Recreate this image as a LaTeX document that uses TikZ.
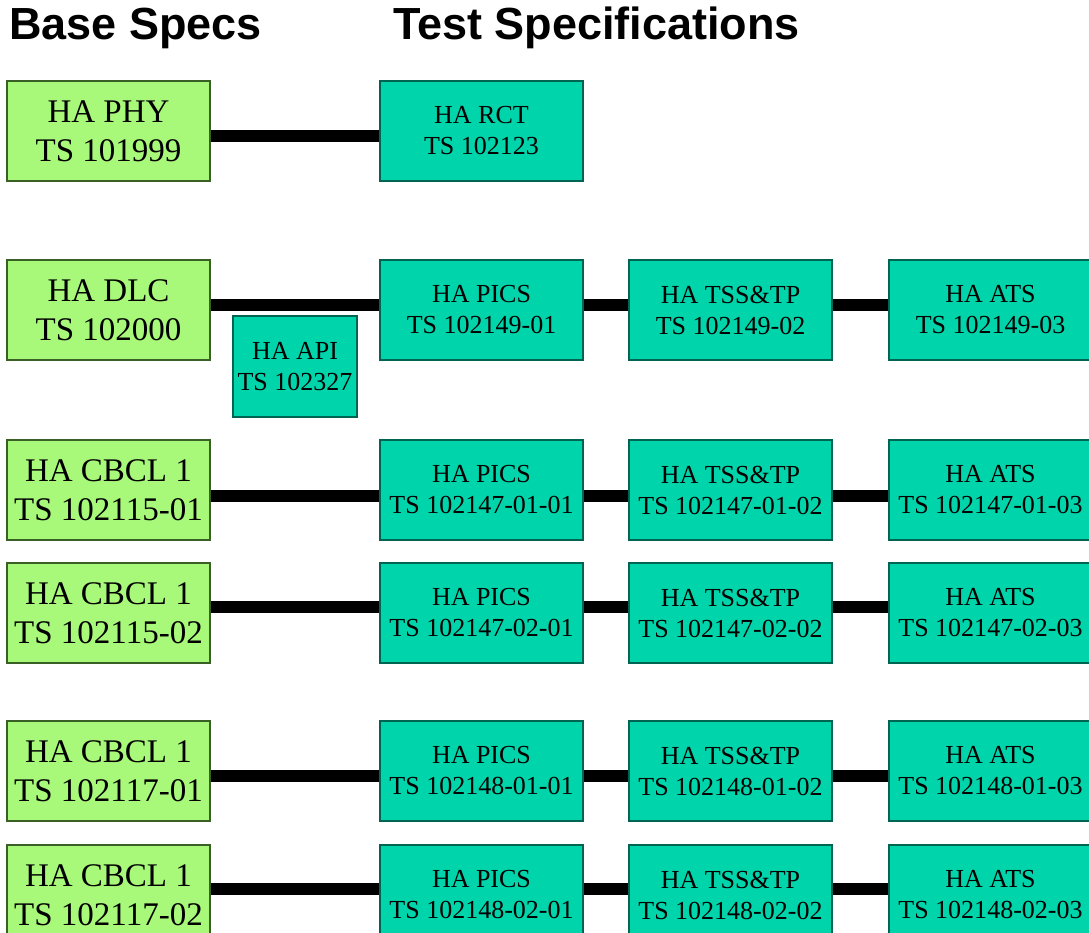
\documentclass[tikz,border=0pt]{standalone}
\usepackage{fontspec}
\setmainfont{Liberation Serif}
\newfontfamily\headfont{Liberation Sans}
\usepackage{tikz}
\usetikzlibrary{arrows,positioning}
\definecolor{basegreen}{RGB}{168,248,122}
\definecolor{baseedge}{RGB}{58,96,40}
\definecolor{testteal}{RGB}{0,212,170}
\definecolor{testedge}{RGB}{0,100,82}

\begin{document}
\begin{tikzpicture}[x=1pt,y=-1pt,
  basebox/.style={rectangle,draw=baseedge,fill=basegreen,line width=1.2pt,
    minimum width=203pt,minimum height=100pt,inner sep=0pt,align=center,
    font=\fontsize{33}{39}\selectfont},
  testbox/.style={rectangle,draw=testedge,fill=testteal,line width=1.2pt,
    minimum width=203pt,minimum height=100pt,inner sep=0pt,align=center,
    font=\fontsize{26}{31}\selectfont},
  link/.style={line width=11.5pt,black},
  head/.style={anchor=base west,inner sep=0pt,font=\headfont\bfseries\fontsize{45}{50}\selectfont}]
\useasboundingbox (0,0) rectangle (1089,932);
% \draw[help lines] (0,0) grid (1089,932);
\node (hbase) [head] at (9,39) {Base Specs};
\node (htest) [head] at (393,39) {Test Specifications};
%
\node (phy) [basebox] at (108.5,131) {HA PHY\\TS 101999};
\node (rct) [testbox] at (481.5,131) {HA RCT\\TS 102123};
%
\node (dlc) [basebox] at (108.5,310) {HA DLC\\TS 102000};
\node (api) [testbox,minimum width=124pt,minimum height=101pt] at (295,366.5) {HA API\\TS 102327};
\node (pics0) [testbox] at (481.5,310) {HA PICS\\TS 102149-01};
\node (tss0) [testbox] at (730.5,310) {HA TSS\&TP\\TS 102149-02};
\node (ats0) [testbox] at (990.5,310) {HA ATS\\TS 102149-03};
%
\node (cbcla) [basebox] at (108.5,490) {HA CBCL 1\\TS 102115-01};
\node (picsa) [testbox] at (481.5,490) {HA PICS\\TS 102147-01-01};
\node (tssa) [testbox] at (730.5,490) {HA TSS\&TP\\TS 102147-01-02};
\node (atsa) [testbox] at (990.5,490) {HA ATS\\TS 102147-01-03};
%
\node (cbclb) [basebox] at (108.5,613) {HA CBCL 1\\TS 102115-02};
\node (picsb) [testbox] at (481.5,613) {HA PICS\\TS 102147-02-01};
\node (tssb) [testbox] at (730.5,613) {HA TSS\&TP\\TS 102147-02-02};
\node (atsb) [testbox] at (990.5,613) {HA ATS\\TS 102147-02-03};
%
\node (cbclc) [basebox] at (108.5,771) {HA CBCL 1\\TS 102117-01};
\node (picsc) [testbox] at (481.5,771) {HA PICS\\TS 102148-01-01};
\node (tssc) [testbox] at (730.5,771) {HA TSS\&TP\\TS 102148-01-02};
\node (atsc) [testbox] at (990.5,771) {HA ATS\\TS 102148-01-03};
%
\node (cbcld) [basebox] at (108.5,895) {HA CBCL 1\\TS 102117-02};
\node (picsd) [testbox] at (481.5,895) {HA PICS\\TS 102148-02-01};
\node (tssd) [testbox] at (730.5,895) {HA TSS\&TP\\TS 102148-02-02};
\node (atsd) [testbox] at (990.5,895) {HA ATS\\TS 102148-02-03};
%
\path[link] ([yshift=-5pt]phy.east) edge ([yshift=-5pt]rct.west);
\path[link] ([yshift=5pt]dlc.east) edge ([yshift=5pt]pics0.west);
\path[link] ([yshift=5pt]pics0.east) edge ([yshift=5pt]tss0.west);
\path[link] ([yshift=5pt]tss0.east) edge ([yshift=5pt]ats0.west);
\path[link] ([yshift=-6pt]cbcla.east) edge ([yshift=-6pt]picsa.west);
\path[link] ([yshift=-6pt]picsa.east) edge ([yshift=-6pt]tssa.west);
\path[link] ([yshift=-6pt]tssa.east) edge ([yshift=-6pt]atsa.west);
\path[link] ([yshift=6pt]cbclb.east) edge ([yshift=6pt]picsb.west);
\path[link] ([yshift=6pt]picsb.east) edge ([yshift=6pt]tssb.west);
\path[link] ([yshift=6pt]tssb.east) edge ([yshift=6pt]atsb.west);
\path[link] ([yshift=-5pt]cbclc.east) edge ([yshift=-5pt]picsc.west);
\path[link] ([yshift=-5pt]picsc.east) edge ([yshift=-5pt]tssc.west);
\path[link] ([yshift=-5pt]tssc.east) edge ([yshift=-5pt]atsc.west);
\path[link] ([yshift=6pt]cbcld.east) edge ([yshift=6pt]picsd.west);
\path[link] ([yshift=6pt]picsd.east) edge ([yshift=6pt]tssd.west);
\path[link] ([yshift=6pt]tssd.east) edge ([yshift=6pt]atsd.west);
\end{tikzpicture}
\end{document}
